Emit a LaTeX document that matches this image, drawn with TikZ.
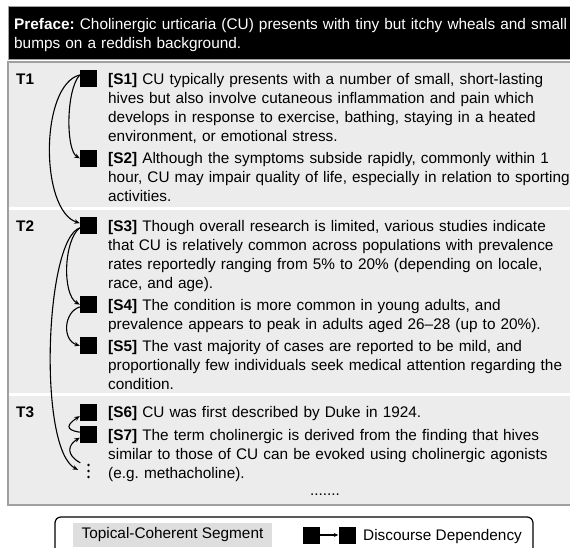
\documentclass[tikz,border=0pt]{standalone}
\usepackage{fontspec}
\setmainfont{Liberation Sans}
\usetikzlibrary{arrows.meta}
\definecolor{segbg}{RGB}{236,236,236}
\definecolor{segline}{RGB}{160,160,160}
\definecolor{legbg}{RGB}{222,222,222}
\frenchspacing
\begin{document}
\begin{tikzpicture}[x=1pt,y=-1pt,
  txt/.style={font=\fontsize{15.35}{19}\selectfont\frenchspacing, inner sep=0pt, anchor=base west, align=left, text width=600pt},
  lab/.style={font=\fontsize{15.35}{19}\selectfont\bfseries, inner sep=0pt, anchor=base west},
  sq/.style={fill=black, minimum size=17pt, inner sep=0pt},
  arr/.style={-{Stealth[length=5.5pt,width=4.5pt]}, line width=1.1pt},
  ldots/.style={fill=black, circle, inner sep=0pt, minimum size=2.8pt}]
\useasboundingbox (0,0) rectangle (570,548);
% preface box
\draw[fill=black, draw=segline, line width=1pt] (8,7) rectangle (585,60);
\node[txt, text=white] (pref) at (14,29.5) {\textbf{Preface:} Cholinergic urticaria (CU) presents with tiny but itchy wheals and small\\bumps on a reddish background.};
% segments box
\draw[draw=segline, fill=segbg, line width=1.5pt] (8,62) rectangle (585,505);
\draw[white, line width=3pt] (8.75,208.5) -- (585,208.5);
\draw[white, line width=3pt] (8.75,394) -- (585,394);
% labels
\node[lab] (T1) at (16,84.5) {T1};
\node[lab] (T2) at (16,231) {T2};
\node[lab] (T3) at (16,417.5) {T3};
% squares
\node[sq] (S1) at (88.5,79) {};
\node[sq] (S2) at (88.5,158.3) {};
\node[sq] (S3) at (88.5,225.5) {};
\node[sq] (S4) at (88.5,304.6) {};
\node[sq] (S5) at (88.5,345.8) {};
\node[sq] (S6) at (88.5,412) {};
\node[sq] (S7) at (88.5,434.5) {};
\node[minimum width=16pt, minimum height=16pt, inner sep=0pt] (dd) at (88.5,471) {};
\node[ldots] (d1) at (88.5,465) {};
\node[ldots] (d2) at (88.5,471) {};
\node[ldots] (d3) at (88.5,477) {};
% texts
\node[txt] (t1) at (108,84.5) {\textbf{[S1]} CU typically presents with a number of small, short-lasting\\hives but also involve cutaneous inflammation and pain which\\develops in response to exercise, bathing, staying in a heated\\environment, or emotional stress.};
\node[txt] (t2) at (108,163.8) {\textbf{[S2]} Although the symptoms subside rapidly, commonly within 1\\hour, CU may impair quality of life, especially in relation to sporting\\activities.};
\node[txt] (t3) at (108,231) {\textbf{[S3]} Though overall research is limited, various studies indicate\\that CU is relatively common across populations with prevalence\\rates reportedly ranging from 5\% to 20\% (depending on locale,\\race, and age).};
\node[txt] (t4) at (108,310.1) {\textbf{[S4]} The condition is more common in young adults, and\\prevalence appears to peak in adults aged 26–28 (up to 20\%).};
\node[txt] (t5) at (108,351.3) {\textbf{[S5]} The vast majority of cases are reported to be mild, and\\proportionally few individuals seek medical attention regarding the\\condition.};
\node[txt] (t6) at (108,417.5) {\textbf{[S6]} CU was first described by Duke in 1924.};
\node[txt] (t7) at (108,440) {\textbf{[S7]} The term cholinergic is derived from the finding that hives\\similar to those of CU can be evoked using cholinergic agonists\\(e.g. methacholine).};
\node[font=\fontsize{15.35}{19}\selectfont, inner sep=0pt, anchor=base] (more) at (325,495) {.......};
% dependencies
\draw[arr] (S1.155) .. controls +(-14,15) and +(-14,-8) .. (S2.west);
\draw[arr] (S1.155) .. controls +(-40,10) and +(-40,-13) .. (S3.165);
\draw[arr] (S3.195) .. controls +(-16,12) and +(-18,-10) .. (S4.west);
\draw[arr] (S4.195) .. controls +(-16,5) and +(-18,-6) .. (S5.west);
\draw[arr, shorten >=2.5pt] (S3.195) .. controls +(-35,12) and +(-42.5,-22) .. (dd.west);
\draw[arr] (S7.165) .. controls +(-16,-2.4) and +(-12,8) .. (S6.205);
\draw[arr] (dd.north west) .. controls +(-14.5,-8) and +(-12,7.4) .. (S7.200);
% legend
\draw[line width=1.2pt, rounded corners=6pt] (55,517) rectangle (533,575);
\node[fill=legbg, minimum width=199pt, minimum height=24pt, inner sep=0pt, text height=11pt, text depth=3.2pt, font=\fontsize{15.35}{19}\selectfont] (legseg) at (172.5,535) {Topical-Coherent Segment};
\node[sq] (L1) at (311.5,535) {};
\node[sq] (L2) at (347,535) {};
\draw[-{Stealth[length=4.5pt,width=4pt]}, line width=1.1pt] (L1.east) -- (L2.west);
\node[lab, font=\fontsize{15.35}{19}\selectfont] (legdep) at (363,540.5) {Discourse Dependency};
\end{tikzpicture}
\end{document}
